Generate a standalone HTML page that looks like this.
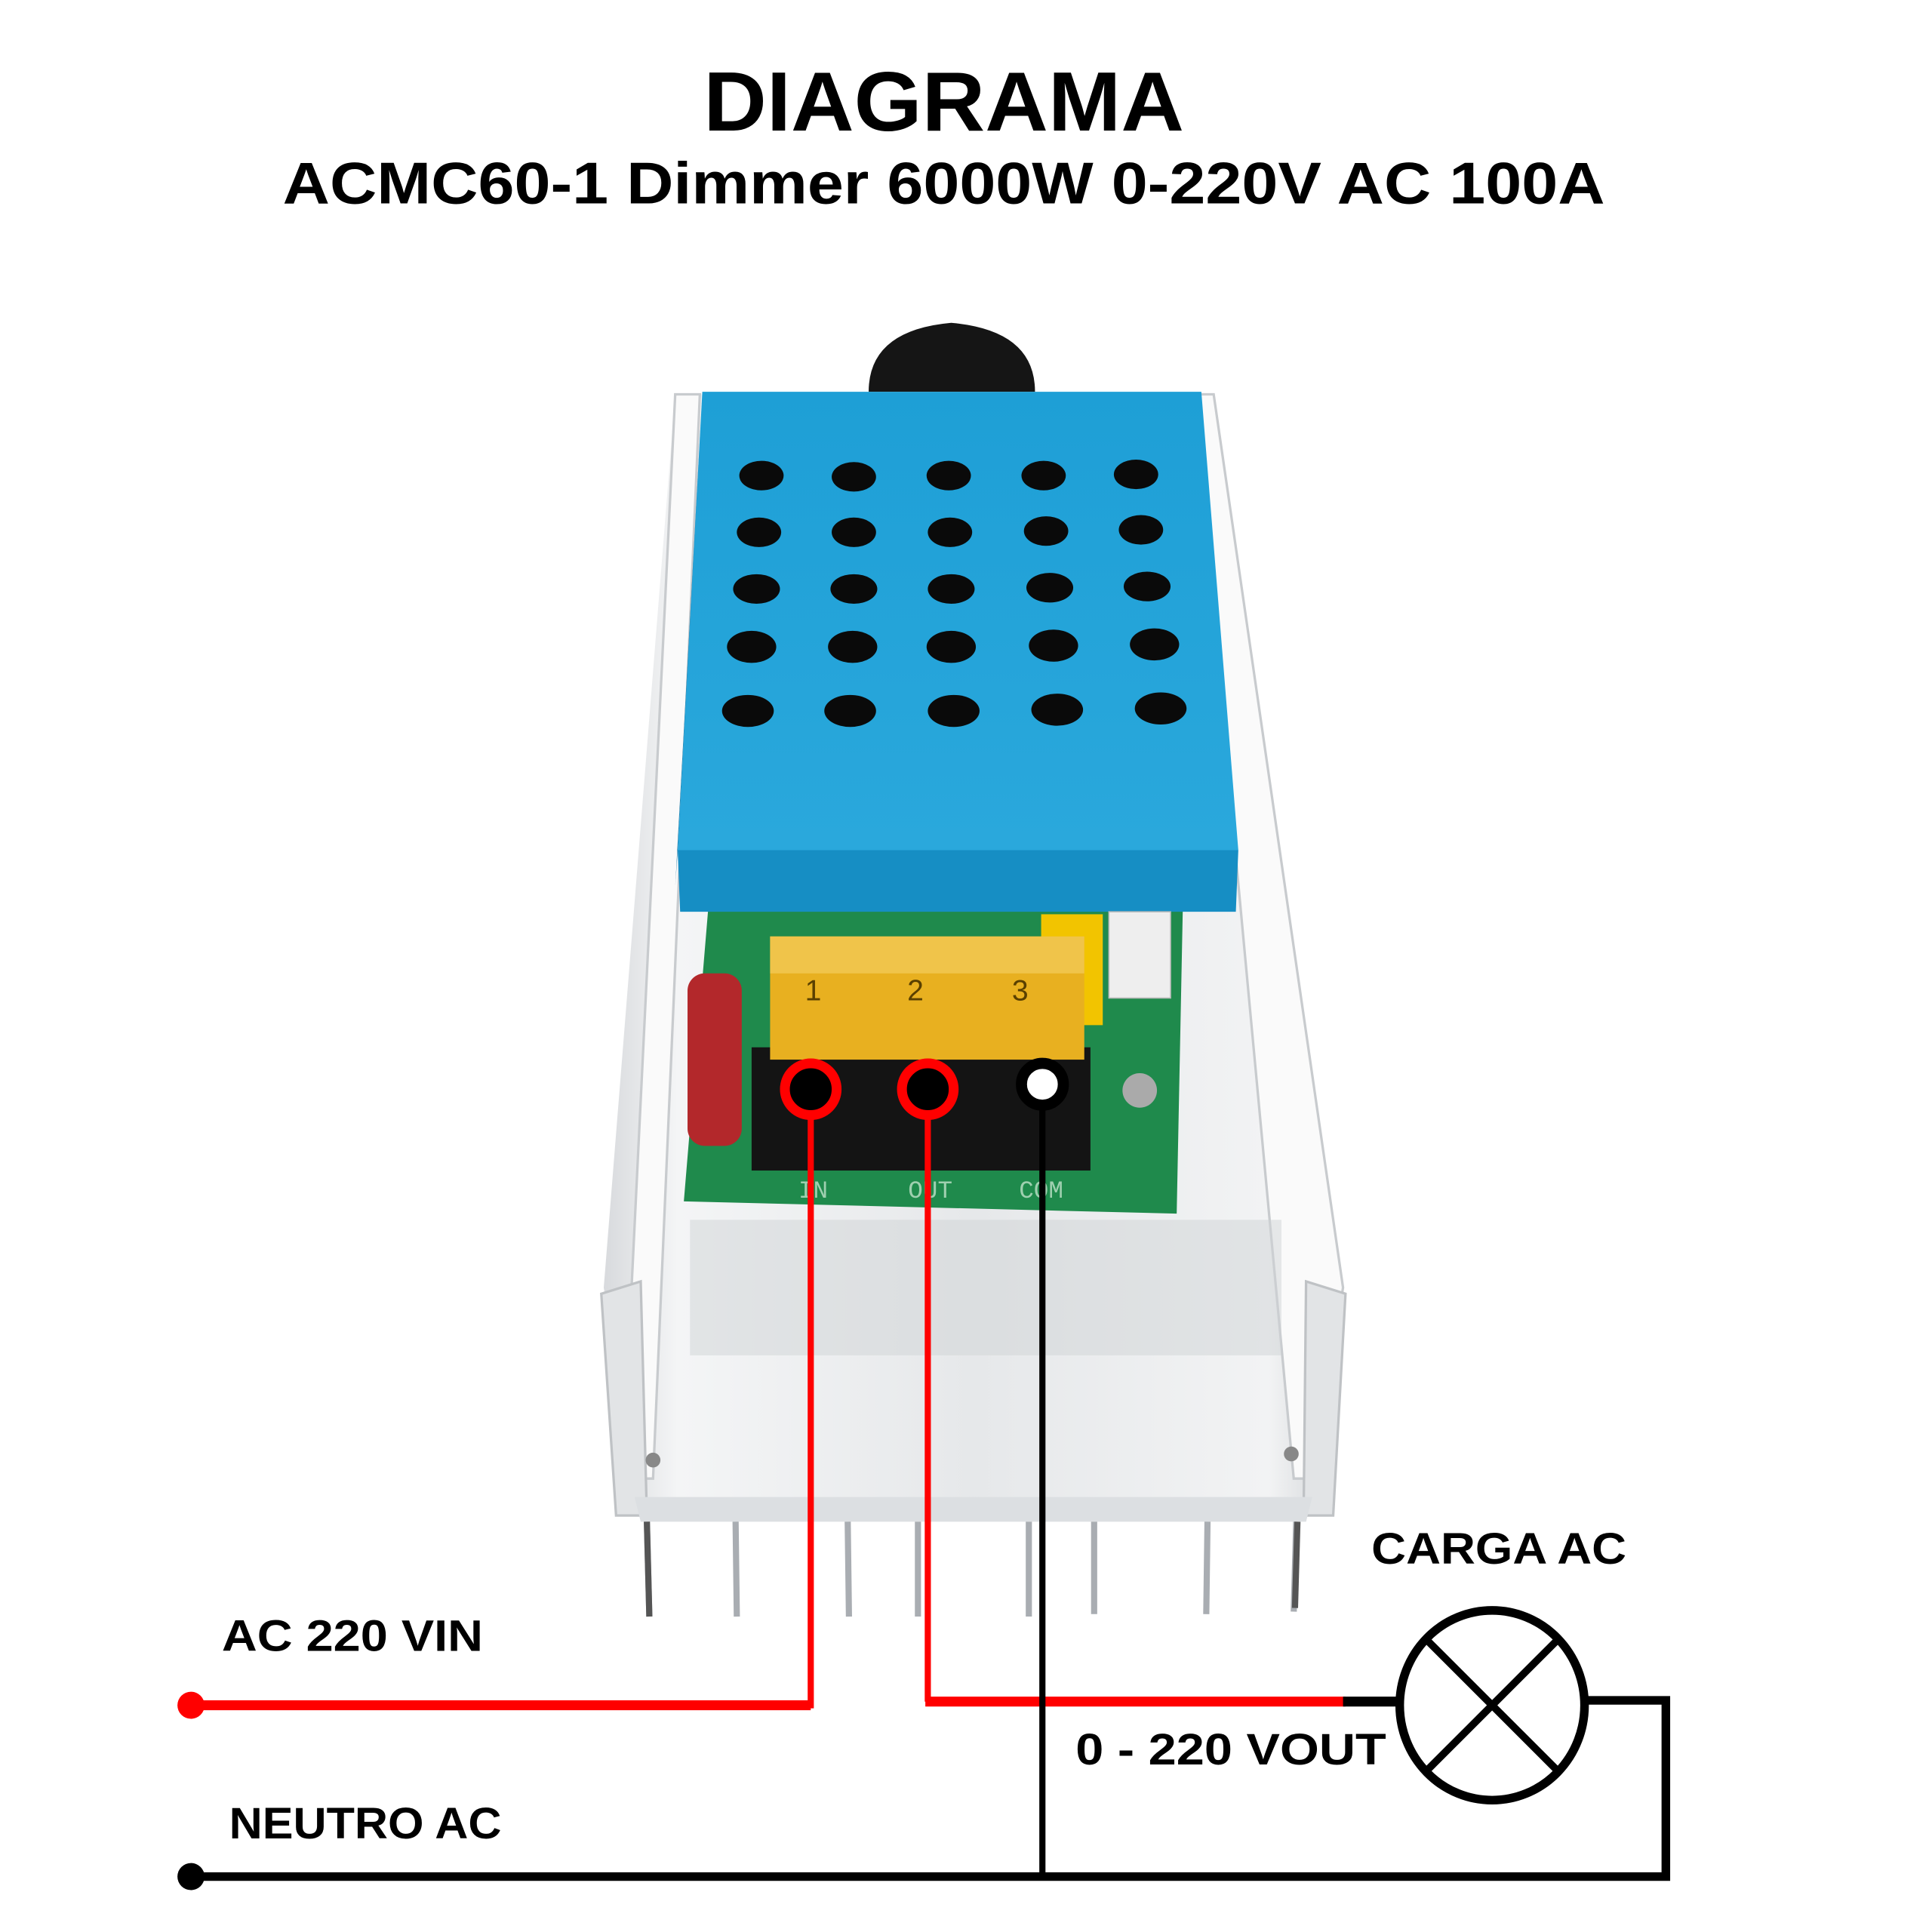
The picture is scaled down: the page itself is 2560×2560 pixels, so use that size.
<!DOCTYPE html>
<html><head><meta charset="utf-8"><style>
html,body{margin:0;padding:0;background:#fff;}
svg{display:block;}
</style></head><body>
<svg width="2560" height="2560" viewBox="0 0 1568 1568" xmlns="http://www.w3.org/2000/svg">
<defs>
<linearGradient id="hs" x1="0" x2="1" y1="0" y2="0">
<stop offset="0" stop-color="#d8dadd"/><stop offset="0.1" stop-color="#f4f5f6"/><stop offset="0.5" stop-color="#e6e8ea"/><stop offset="0.9" stop-color="#f2f3f4"/><stop offset="1" stop-color="#cfd2d5"/>
</linearGradient>
<linearGradient id="bl" x1="0" x2="0" y1="0" y2="1">
<stop offset="0" stop-color="#1e9fd6"/><stop offset="1" stop-color="#2aa8dc"/>
</linearGradient>
</defs>
<rect width="1568" height="1568" fill="#fff"/>
<text x="766" y="106" text-anchor="middle" font-family="Liberation Sans, sans-serif" font-weight="bold" font-size="68" textLength="390" lengthAdjust="spacingAndGlyphs" fill="#000">DIAGRAMA</text>
<text x="766" y="165" text-anchor="middle" font-family="Liberation Sans, sans-serif" font-weight="bold" font-size="48" textLength="1073" lengthAdjust="spacingAndGlyphs" fill="#000">ACMC60-1 Dimmer 6000W 0-220V AC 100A</text>

<!-- heatsink -->
<polygon points="548,320 985,320 1090,1045 1060,1230 520,1230 490,1045" fill="url(#hs)"/>
<polygon points="548,320 568,320 530,1200 505,1200" fill="#fafafa" stroke="#c8cbce" stroke-width="2"/>
<polygon points="968,320 985,320 1090,1045 1065,1200 1050,1200" fill="#fafafa" stroke="#c8cbce" stroke-width="2"/>
<polygon points="488,1050 520,1040 525,1230 500,1230" fill="#e2e4e6" stroke="#bfc2c5" stroke-width="2"/>
<polygon points="1060,1040 1092,1050 1082,1230 1058,1230" fill="#e2e4e6" stroke="#bfc2c5" stroke-width="2"/>
<circle cx="530" cy="1185" r="6" fill="#888"/><circle cx="1048" cy="1180" r="6" fill="#888"/>
<rect x="560" y="990" width="480" height="110" fill="#d0d3d6" opacity="0.5"/>
<polygon points="515,1215 1065,1215 1060,1235 520,1235" fill="#dcdfe2"/>
<g stroke="#a9adb2" stroke-width="5">
<line x1="525" y1="1235" x2="527" y2="1312"/><line x1="597" y1="1235" x2="598" y2="1312"/>
<line x1="688" y1="1235" x2="689" y2="1312"/><line x1="745" y1="1235" x2="745" y2="1312"/>
<line x1="835" y1="1235" x2="835" y2="1312"/><line x1="888" y1="1235" x2="888" y2="1310"/>
<line x1="980" y1="1235" x2="979" y2="1310"/><line x1="1052" y1="1235" x2="1050" y2="1308"/>
</g>
<line x1="525" y1="1235" x2="527" y2="1312" stroke="#555" stroke-width="5"/>
<line x1="1053" y1="1235" x2="1051" y2="1305" stroke="#555" stroke-width="5"/>

<!-- knob -->
<path d="M705,318 Q705,268 772,262 Q840,268 840,318 Z" fill="#151515"/>
<!-- PCB -->
<polygon points="575,735 960,735 955,985 555,975" fill="#1f8a4c"/>
<!-- capacitor -->
<rect x="558" y="790" width="44" height="140" rx="14" fill="#b3282b"/>
<!-- blue cover -->
<polygon points="570,318 975,318 1005,690 550,690" fill="url(#bl)"/>
<polygon points="550,690 1005,690 1003,740 552,740" fill="#168ec4"/>
<polygon points="570,320 550,690 548,720" fill="#0f6f9e"/>
<g fill="#0a0a0a">
<ellipse cx="618" cy="386" rx="18" ry="12"/><ellipse cx="693" cy="387" rx="18" ry="12"/><ellipse cx="770" cy="386" rx="18" ry="12"/><ellipse cx="847" cy="386" rx="18" ry="12"/><ellipse cx="922" cy="385" rx="18" ry="12"/>
<ellipse cx="616" cy="432" rx="18" ry="12"/><ellipse cx="693" cy="432" rx="18" ry="12"/><ellipse cx="771" cy="432" rx="18" ry="12"/><ellipse cx="849" cy="431" rx="18" ry="12"/><ellipse cx="926" cy="430" rx="18" ry="12"/>
<ellipse cx="614" cy="478" rx="19" ry="12"/><ellipse cx="693" cy="478" rx="19" ry="12"/><ellipse cx="772" cy="478" rx="19" ry="12"/><ellipse cx="852" cy="477" rx="19" ry="12"/><ellipse cx="931" cy="476" rx="19" ry="12"/>
<ellipse cx="610" cy="525" rx="20" ry="13"/><ellipse cx="692" cy="525" rx="20" ry="13"/><ellipse cx="772" cy="525" rx="20" ry="13"/><ellipse cx="855" cy="524" rx="20" ry="13"/><ellipse cx="937" cy="523" rx="20" ry="13"/>
<ellipse cx="607" cy="577" rx="21" ry="13"/><ellipse cx="690" cy="577" rx="21" ry="13"/><ellipse cx="774" cy="577" rx="21" ry="13"/><ellipse cx="858" cy="576" rx="21" ry="13"/><ellipse cx="942" cy="575" rx="21" ry="13"/>
</g>
<!-- connectors -->
<rect x="845" y="742" width="50" height="90" fill="#f2c400"/>
<rect x="900" y="740" width="50" height="70" fill="#eeeeee" stroke="#bbb"/>
<!-- terminal block -->
<rect x="610" y="850" width="275" height="100" fill="#141414"/>
<rect x="625" y="760" width="255" height="100" fill="#e8b020"/>
<rect x="625" y="760" width="255" height="30" fill="#f0c44a"/>
<text x="660" y="812" text-anchor="middle" font-family="Liberation Sans, sans-serif" font-size="24" fill="#5a4000">1</text>
<text x="743" y="812" text-anchor="middle" font-family="Liberation Sans, sans-serif" font-size="24" fill="#5a4000">2</text>
<text x="828" y="812" text-anchor="middle" font-family="Liberation Sans, sans-serif" font-size="24" fill="#5a4000">3</text>
<circle cx="925" cy="885" r="14" fill="#aaa"/>
<text x="660" y="972" text-anchor="middle" font-family="Liberation Mono, monospace" font-size="20" fill="#9fd0b0">IN</text>
<text x="755" y="972" text-anchor="middle" font-family="Liberation Mono, monospace" font-size="20" fill="#9fd0b0">OUT</text>
<text x="845" y="972" text-anchor="middle" font-family="Liberation Mono, monospace" font-size="20" fill="#9fd0b0">COM</text>

<!-- wires -->
<polyline points="658,900 658,1384 155,1384" fill="none" stroke="#f00" stroke-width="5"/>
<line x1="658" y1="1384" x2="155" y2="1384" stroke="#f00" stroke-width="8"/>
<polyline points="753,900 753,1381" fill="none" stroke="#f00" stroke-width="5"/>
<line x1="751" y1="1381" x2="1092" y2="1381" stroke="#f00" stroke-width="8"/>
<line x1="846" y1="895" x2="846" y2="1523" stroke="#000" stroke-width="5"/>
<line x1="1090" y1="1381" x2="1137" y2="1381" stroke="#000" stroke-width="8"/>
<polyline points="1285,1380 1352,1380 1352,1523 155,1523" fill="none" stroke="#000" stroke-width="7"/>
<circle cx="155" cy="1384" r="11" fill="#f00"/>
<circle cx="155" cy="1523" r="11" fill="#000"/>
<circle cx="658" cy="884" r="21" fill="#000" stroke="#f00" stroke-width="8"/>
<circle cx="753" cy="884" r="21" fill="#000" stroke="#f00" stroke-width="8"/>
<circle cx="846" cy="880" r="17" fill="#fff" stroke="#000" stroke-width="9"/>
<!-- lamp -->
<ellipse cx="1211" cy="1384" rx="75" ry="77" fill="none" stroke="#000" stroke-width="7"/>
<line x1="1157" y1="1330" x2="1265" y2="1438" stroke="#000" stroke-width="6"/>
<line x1="1265" y1="1330" x2="1157" y2="1438" stroke="#000" stroke-width="6"/>

<g font-family="Liberation Sans, sans-serif" font-weight="bold" font-size="36" fill="#000">
<text x="180" y="1340" textLength="212" lengthAdjust="spacingAndGlyphs">AC 220 VIN</text>
<text x="186" y="1492" textLength="221" lengthAdjust="spacingAndGlyphs">NEUTRO AC</text>
<text x="1113" y="1269" textLength="207" lengthAdjust="spacingAndGlyphs">CARGA AC</text>
<text x="873" y="1432" textLength="252" lengthAdjust="spacingAndGlyphs">0 - 220 VOUT</text>
</g>
</svg>
</body></html>
